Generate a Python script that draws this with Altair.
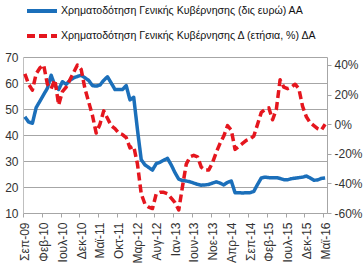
import altair as alt
import pandas as pd

tick_labels = ["Σεπ-09", "Φεβ-10", "Ιουλ-10", "Δεκ-10", "Μαϊ-11", "Οκτ-11", "Μαρ-12", "Αυγ-12",
               "Ιαν-13", "Ιουν-13", "Νοε-13", "Απρ-14", "Σεπ-14", "Φεβ-15", "Ιουλ-15", "Δεκ-15", "Μαϊ-16"]

series_names = ["Χρηματοδότηση Γενικής Κυβέρνησης (δις ευρώ) ΑΑ",
                "Χρηματοδότηση Γενικής Κυβέρνησης Δ (ετήσια, %) ΔΑ"]

# monthly, Sep-09 .. May-16 (81 months)
level_bn = [47, 45, 44.5, 50.5, 53, 55.5, 58, 63, 59, 57.5,
            60.5, 59.5, 61, 62, 62.5, 63, 62, 61, 59, 58.8,
            59.2, 61, 62.4, 60, 57.5, 57.5, 57.5, 59, 53.5, 54.5,
            42, 30.5, 28.5, 27.5, 26.5, 29, 29.5, 30.3, 31, 28.5,
            25.5, 23, 22.5, 22.3, 22, 21.5, 21, 20.7, 20.8, 21,
            21.5, 22, 21.5, 20.8, 21.8, 22.3, 17.8, 17.8, 17.7, 17.8,
            17.8, 18.3, 21, 23.5, 23.8, 23.6, 23.6, 23.6, 23.3, 22.8,
            22.8, 23.2, 23.4, 23.6, 23.8, 24.2, 23.5, 22.6, 22.7, 23.3,
            23.5]

yoy_pct = [34, 27, 23, 34, 38, 40, 27, 24, 30, 13,
           22, 25, 30, 35, 40, 37, 24, 15, 6, -6,
           0, 9, 4, -1, -3, -6, -7, -9, -16, -15,
           -27, -47, -54, -56, -57, -47, -46, -46, -47, -50,
           -53, -58, -42, -27, -22, -21, -22, -29, -31, -31,
           -26, -19, -13, -8, -1, -4, -17, -15, -13, -11,
           -10, -8, 0, 8, 10, 11, 3, 10, 30, 25,
           24, 25, 27, 24, 12, 5, 1, -1, -3, -4,
           0]

months = list(range(len(level_bn)))

df_blue = pd.DataFrame({"m": months, "v": level_bn, "s": series_names[0]})
df_red = pd.DataFrame({"m": months, "v": yoy_pct, "s": series_names[1]})

FONT = "Liberation Sans"
BLUE = "#1B6FBA"
RED = "#E5161E"

lab_arr = "[" + ",".join("'" + t + "'" for t in tick_labels) + "]"

x_enc = alt.X("m:Q", scale=alt.Scale(domain=[-0.5, 80.5], nice=False, zero=False),
              axis=alt.Axis(values=list(range(0, 81, 5)), labelExpr=lab_arr + "[round(datum.value/5)]",
                            labelAngle=-90, title=None, grid=False, tickSize=4, tickOffset=-1.9,
                            labelOffset=1.9, labelPadding=5, labelFontSize=12, labelColor="#333333",
                            labelFont=FONT, domainColor="#A6A6A6", tickColor="#A6A6A6"))

leg = alt.Legend(title=None, orient="none", legendX=2, legendY=-63, direction="vertical",
                 symbolType="stroke", symbolSize=900, symbolStrokeWidth=4, labelFontSize=10.6,
                 labelFont=FONT, labelColor="#111111", rowPadding=-11, labelOffset=2, labelLimit=400)

color_enc = alt.Color("s:N", scale=alt.Scale(domain=series_names, range=[BLUE, RED]), legend=leg)
dash_enc = alt.StrokeDash("s:N", scale=alt.Scale(domain=series_names, range=[[1, 0], [8, 4]]), legend=leg)

blue = alt.Chart(df_blue).mark_line(strokeWidth=3.5, strokeJoin="round").encode(
    x=x_enc,
    y=alt.Y("v:Q", scale=alt.Scale(domain=[10, 70], nice=False, zero=False),
            axis=alt.Axis(values=list(range(10, 71, 10)), title=None, grid=True, gridColor="#A6A6A6",
                          ticks=False, labelPadding=5, labelFontSize=12, labelColor="#333333",
                          labelFont=FONT, domainColor="#BFBFBF")),
    color=color_enc,
    strokeDash=dash_enc,
)

red = alt.Chart(df_red).mark_line(strokeWidth=3.5, strokeJoin="round").encode(
    x=x_enc,
    y=alt.Y("v:Q", scale=alt.Scale(domain=[-60, 45.4], nice=False, zero=False),
            axis=alt.Axis(values=list(range(-60, 41, 20)), orient="right", title=None, grid=False,
                          labelExpr="datum.value + '%'", tickSize=4, labelPadding=3, labelFontSize=12,
                          labelColor="#333333", labelFont=FONT, domainColor="#A6A6A6",
                          tickColor="#A6A6A6")),
    color=color_enc,
    strokeDash=dash_enc,
)

chart = alt.layer(blue, red).resolve_scale(y="independent").properties(
    width=304, height=156,
    autosize=alt.AutoSizeParams(type="none"),
    padding={"left": 23, "top": 57, "right": 36, "bottom": 54},
    background="white",
).configure_view(stroke=None)

chart.save("out.html", embed_options={"renderer": "svg", "actions": False})
